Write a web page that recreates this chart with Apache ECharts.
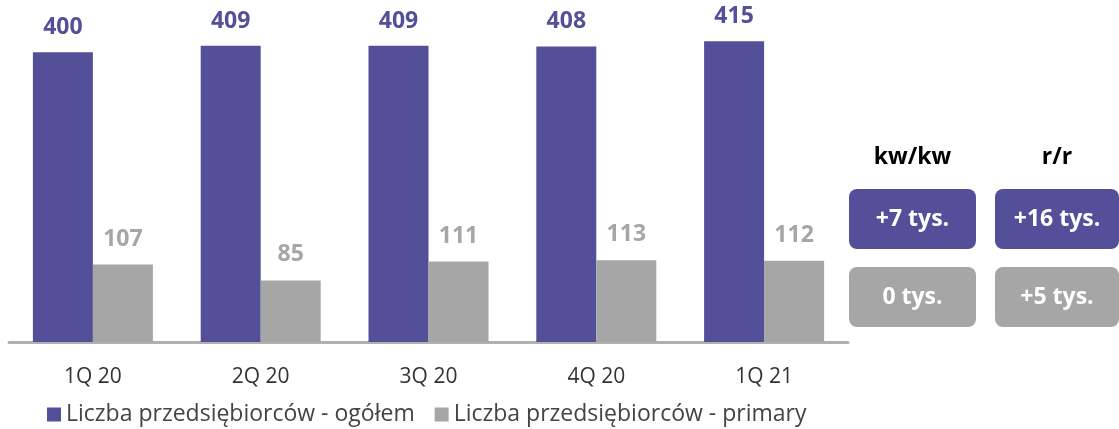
<!DOCTYPE html>
<html>
<head>
<meta charset="utf-8">
<script src="https://cdn.jsdelivr.net/npm/echarts@6/dist/echarts.min.js"></script>
<style>
  html, body { margin: 0; padding: 0; background: #fff; }
  #chart { width: 1119px; height: 429px; }
</style>
</head>
<body>
<div id="chart"></div>
<script>
  // dane
  const categories = ['1Q 20', '2Q 20', '3Q 20', '4Q 20', '1Q 21'];
  const seriesNames = ['Liczba przedsiębiorców - ogółem', 'Liczba przedsiębiorców - primary'];
  const totalValues = [400, 409, 409, 408, 415];
  const primaryValues = [107, 85, 111, 113, 112];
  const changeHeaders = ['kw/kw', 'r/r'];
  const totalChanges = ['+7 tys.', '+16 tys.'];
  const primaryChanges = ['0 tys.', '+5 tys.'];

  const PURPLE = '#534f99';
  const GREY = '#a6a6a6';
  const FONT = '"Open Sans", "Noto Sans", sans-serif';

  const chart = echarts.init(document.getElementById('chart'));

  // ramki z wartościami zmian po prawej
  const boxes = [];
  const colX = [849, 995];
  const colW = [127, 124];
  changeHeaders.forEach((h, i) => {
    boxes.push({
      type: 'text', x: colX[i] + colW[i] / 2, y: 157,
      style: {
        text: h, align: 'center', verticalAlign: 'middle',
        font: 'bold 23px ' + FONT, fill: '#000'
      }
    });
    [[totalChanges[i], PURPLE, 189], [primaryChanges[i], GREY, 267]].forEach(([txt, col, y]) => {
      boxes.push({
        type: 'rect',
        shape: { x: colX[i], y: y, width: colW[i], height: 60, r: 8 },
        style: { fill: col }
      }, {
        type: 'text', x: colX[i] + colW[i] / 2, y: y + 30,
        style: {
          text: txt, align: 'center', verticalAlign: 'middle',
          font: 'bold 23px ' + FONT, fill: '#fff'
        }
      });
    });
  });

  const option = {
    animation: false,
    textStyle: { fontFamily: FONT },
    legend: {
      data: seriesNames,
      left: 42,
      top: 398,
      itemWidth: 14,
      itemHeight: 14,
      itemGap: 20,
      icon: 'rect',
      textStyle: { color: '#444', fontSize: 23, fontFamily: FONT }
    },
    grid: { left: 9, right: 271, top: 16, bottom: 87, containLabel: false },
    xAxis: {
      type: 'category',
      data: categories,
      axisLine: { show: true, lineStyle: { color: '#b0b0b0', width: 3 } },
      axisTick: { show: false },
      axisLabel: { color: '#333', fontSize: 21, margin: 25, fontFamily: FONT }
    },
    yAxis: {
      type: 'value', min: 0, max: 450,
      show: false,
      splitLine: { show: false }
    },
    series: [{
      name: seriesNames[0],
      type: 'bar',
      data: totalValues,
      barWidth: 60,
      barGap: '0%',
      itemStyle: { color: PURPLE },
      label: {
        show: true, position: 'top', distance: 13,
        color: PURPLE, fontWeight: 'bold', fontSize: 23, fontFamily: FONT
      }
    }, {
      name: seriesNames[1],
      type: 'bar',
      data: primaryValues,
      barWidth: 60,
      itemStyle: { color: GREY },
      label: {
        show: true, position: 'top', distance: 14,
        color: GREY, fontWeight: 'bold', fontSize: 23, fontFamily: FONT
      }
    }],
    graphic: boxes
  };

  chart.setOption(option);
</script>
</body>
</html>
